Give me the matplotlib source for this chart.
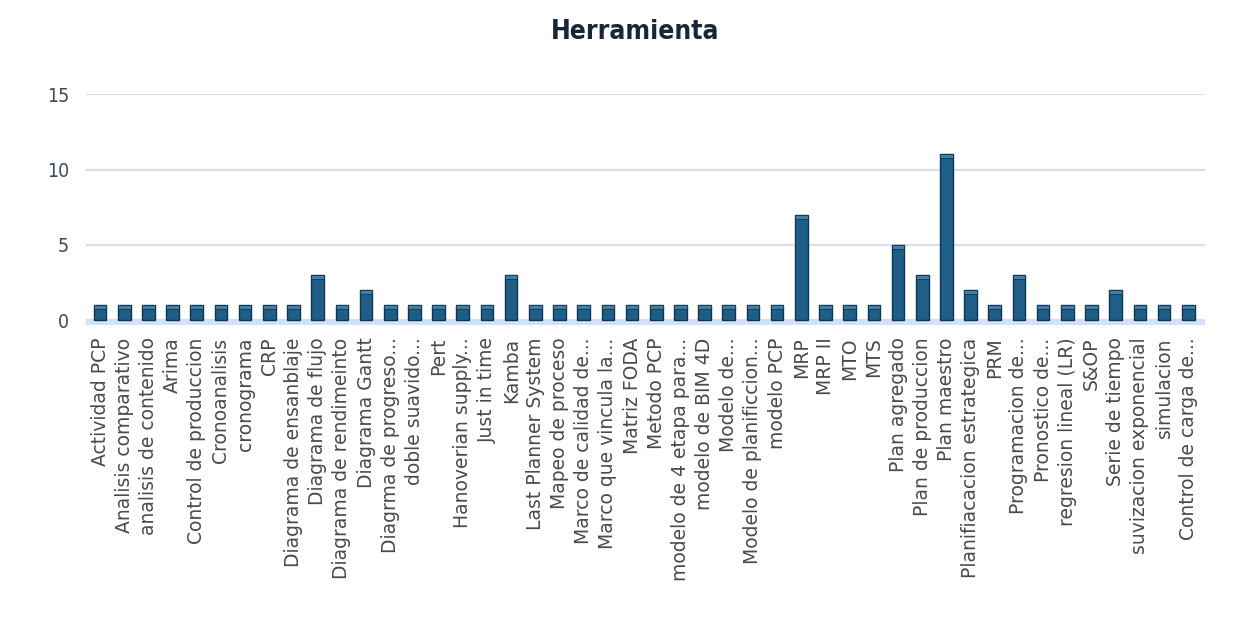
import numpy as np
import matplotlib.pyplot as plt

# categories and counts
herramientas = [
    "Actividad PCP", "Analisis comparativo", "analisis de contenido", "Arima",
    "Control de produccion", "Cronoanalisis", "cronograma", "CRP",
    "Diagrama de ensanblaje", "Diagrama de flujo", "Diagrama de rendimeinto",
    "Diagrama Gantt", "Diagrma de progreso...", "doble suavido...", "Pert",
    "Hanoverian supply...", "Just in time", "Kamba", "Last Planner System",
    "Mapeo de proceso", "Marco de calidad de...", "Marco que vincula la...",
    "Matriz FODA", "Metodo PCP", "modelo de 4 etapa para...", "modelo de BIM 4D",
    "Modelo de...", "Modelo de planificcion...", "modelo PCP", "MRP", "MRP II",
    "MTO", "MTS", "Plan agregado", "Plan de produccion", "Plan maestro",
    "Planifiacacion estrategica", "PRM", "Programacion de...", "Pronostico de...",
    "regresion lineal (LR)", "S&OP", "Serie de tiempo", "suvizacion exponencial",
    "simulacion", "Control de carga de...",
]
conteo = [1, 1, 1, 1, 1, 1, 1, 1, 1, 3, 1, 2, 1, 1, 1, 1, 1, 3, 1, 1, 1, 1, 1,
          1, 1, 1, 1, 1, 1, 7, 1, 1, 1, 5, 3, 11, 2, 1, 3, 1, 1, 1, 2, 1, 1, 1]
yticks = [0, 5, 10, 15]

fig = plt.figure(figsize=(12.58, 6.19), dpi=100)
ax = fig.add_axes([0.068, 0.475, 0.89, 0.373])

x = np.arange(len(herramientas))
ax.bar(x, conteo, width=0.52, color="#1f5e86", edgecolor="#0e3652",
       linewidth=1.0, zorder=3)
# lighter top face for the 3d look
ax.bar(x, [0.25] * len(x), bottom=np.array(conteo) - 0.25, width=0.52,
       color="#3f7fa8", edgecolor="#0e3652", linewidth=0.6, zorder=4)

ax.set_xlim(-0.6, len(x) - 0.3)
ax.set_ylim(-0.3, 15)
ax.set_yticks(yticks)
ax.yaxis.grid(True, color="#d9ddf2", linewidth=1.6, zorder=0)
ax.axhline(-0.15, color="#cfe3f4", linewidth=3, zorder=1)
for s in ax.spines.values():
    s.set_visible(False)
ax.tick_params(length=0)

ax.set_xticks(x)
ax.set_xticklabels(herramientas, rotation=90, fontsize=13.5, color="#4a4a4a",
                   family="DejaVu Sans")
ax.tick_params(axis="x", pad=9)
ax.tick_params(axis="y", pad=12, labelsize=14, labelcolor="#3d4a5a")
for t in ax.get_yticklabels():
    t.set_family("DejaVu Sans")
    t.set_fontstretch("condensed")

fig.suptitle("Herramienta", x=0.505, y=0.97, fontsize=19, fontweight="bold",
             color="#17263b", family="DejaVu Sans", fontstretch="condensed")

fig.savefig("out.png", dpi=100, facecolor="white")
